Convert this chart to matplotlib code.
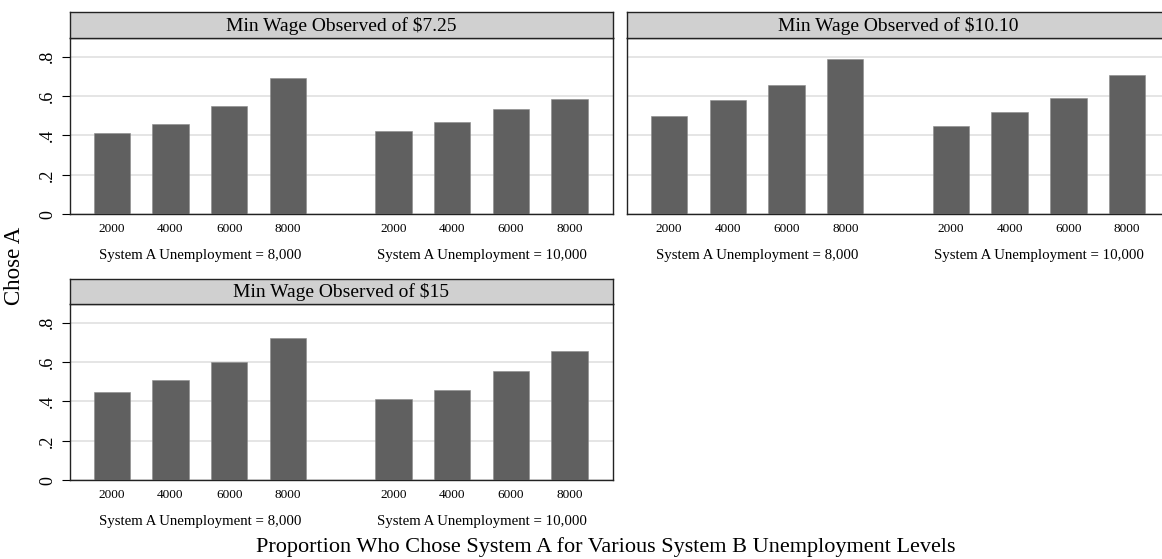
import numpy as np
import matplotlib
matplotlib.use("Agg")
import matplotlib.pyplot as plt

plt.rcParams['font.family'] = ['Liberation Serif', 'DejaVu Serif']

# ---- data ----
wage_labels = ["Min Wage Observed of $7.25", "Min Wage Observed of $10.10", "Min Wage Observed of $15"]
b_levels = ["2000", "4000", "6000", "8000"]
group_labels = ["System A Unemployment = 8,000", "System A Unemployment = 10,000"]

chose_725_a8k = [0.411, 0.458, 0.551, 0.692]
chose_725_a10k = [0.423, 0.470, 0.535, 0.587]
chose_1010_a8k = [0.499, 0.579, 0.655, 0.788]
chose_1010_a10k = [0.447, 0.521, 0.590, 0.707]
chose_15_a8k = [0.449, 0.507, 0.598, 0.721]
chose_15_a10k = [0.412, 0.458, 0.552, 0.658]

panels = [
    (chose_725_a8k, chose_725_a10k),
    (chose_1010_a8k, chose_1010_a10k),
    (chose_15_a8k, chose_15_a10k),
]

W, H = 1162, 559
fig = plt.figure(figsize=(W / 100, H / 100), dpi=100)

BAR = "#606060"
HEAD = "#d0d0d0"
GRID = "#e3e3e3"

# panel boxes in pixels: (left, header_top, plot_top, plot_bottom)
boxes = [(69.5, 12.3, 38.0, 214.3), (626.9, 12.3, 38.0, 214.3), (69.5, 279.0, 304.0, 480.3)]
show_y = [True, False, True]
pw = 543.0

x_a = np.arange(4)
x_b = np.arange(4) + 4.8
gap_x = [x_a.mean(), x_b.mean()]

for (left, htop, ptop, pbot), title, (ya, yb), sy in zip(boxes, wage_labels, panels, show_y):
    ax = fig.add_axes([left / W, (H - pbot) / H, pw / W, (pbot - ptop) / H])
    ax.bar(x_a, ya, width=0.62, color=BAR, edgecolor="#8a8a8a", linewidth=0.4, zorder=3)
    ax.bar(x_b, yb, width=0.62, color=BAR, edgecolor="#8a8a8a", linewidth=0.4, zorder=3)
    ax.set_xlim(-0.72, 8.53)
    ax.set_ylim(0, 0.894)
    ax.set_yticks([0, 0.2, 0.4, 0.6, 0.8])
    ax.yaxis.grid(True, color=GRID, linewidth=1.3, zorder=0)
    ax.set_axisbelow(True)
    if sy:
        ax.set_yticklabels(["0", ".2", ".4", ".6", ".8"], rotation=90, va="center", fontsize=13)
        ax.tick_params(axis="y", length=6, width=0.8, pad=3.5)
    else:
        ax.tick_params(axis="y", length=0, labelleft=False)
    ax.set_xticks(list(x_a) + list(x_b))
    ax.set_xticklabels(b_levels * 2, fontsize=9.5)
    ax.tick_params(axis="x", length=0, pad=6)
    for s in ax.spines.values():
        s.set_linewidth(1.0)
        s.set_color("#222222")
    for gx, gl in zip(gap_x, group_labels):
        ax.text(gx, -0.21, gl, transform=ax.transData, ha="center", va="center",
                fontsize=10.7, clip_on=False)

    hax = fig.add_axes([left / W, (H - ptop) / H, pw / W, (ptop - htop) / H])
    hax.set_facecolor(HEAD)
    hax.set_xticks([])
    hax.set_yticks([])
    for s in hax.spines.values():
        s.set_linewidth(1.0)
        s.set_color("#222222")
    hax.text(0.5, 0.48, title, ha="center", va="center", fontsize=14, transform=hax.transAxes)

fig.text(15 / W, 1 - 266 / H, "Chose A", rotation=90, ha="center", va="center", fontsize=16.5)
fig.text(606 / W, 1 - 547 / H,
         "Proportion Who Chose System A for Various System B Unemployment Levels",
         ha="center", va="center", fontsize=16)

fig.savefig("out.png", dpi=100)
